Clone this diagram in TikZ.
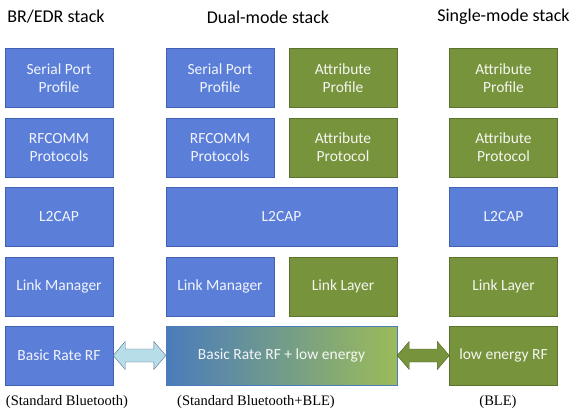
\documentclass[tikz,border=0pt]{standalone}
\usepackage{fontspec}
\setmainfont{Liberation Serif}
\newfontfamily\boxfont{Carlito}
\usetikzlibrary{calc}
\definecolor{stackblue}{RGB}{91,126,217}
\definecolor{stackblueline}{RGB}{68,96,178}
\definecolor{stackgreen}{RGB}{119,147,60}
\definecolor{stackgreenline}{RGB}{92,114,45}
\definecolor{arrowcyan}{RGB}{183,222,232}
\definecolor{arrowcyanline}{RGB}{79,110,145}
\definecolor{arrowgreenline}{RGB}{79,98,40}
\definecolor{gradleft}{RGB}{74,124,187}
\definecolor{gradright}{RGB}{155,187,89}
\begin{document}
\begin{tikzpicture}[x=1pt, y=1pt,
    layer/.style={minimum width=108pt, minimum height=59pt, inner sep=0pt,
        text=white, text opacity=0.92, align=center,
        font=\boxfont\fontsize{15.5}{18}\selectfont},
    bluelayer/.style={layer, fill=stackblue, draw=stackblueline},
    greenlayer/.style={layer, fill=stackgreen, draw=stackgreenline},
    title/.style={font=\boxfont\fontsize{18}{21}\selectfont},
    caption/.style={font=\fontsize{14.5}{17}\selectfont}]
    \useasboundingbox (0,0) rectangle (588,415);

    % the titles
    \node[title] (ttlbr) at (56,398) {BR/EDR stack};
    \node[title] (ttldual) at (268,398) {Dual-mode stack};
    \node[title] (ttlsingle) at (503.5,398) {Single-mode stack};

    % BR/EDR stack
    \node[bluelayer] (brspp) at (59,337) {Serial Port\\Profile};
    \node[bluelayer] (brrfc) at (59,267.5) {RFCOMM\\Protocols};
    \node[bluelayer] (brl2) at (59,198) {L2CAP};
    \node[bluelayer] (brlm) at (59,128.5) {Link Manager};
    \node[bluelayer] (brrf) at (59,59.5) {Basic Rate RF};

    % dual-mode stack
    \node[bluelayer] (dmspp) at (220,337) {Serial Port\\Profile};
    \node[greenlayer] (dmatp) at (343,337) {Attribute\\Profile};
    \node[bluelayer] (dmrfc) at (220,267.5) {RFCOMM\\Protocols};
    \node[greenlayer] (dmatt) at (343,267.5) {Attribute\\Protocol};
    \node[bluelayer, minimum width=231pt] (dml2) at (281.5,198) {L2CAP};
    \node[bluelayer] (dmlm) at (220,128.5) {Link Manager};
    \node[greenlayer] (dmll) at (343,128.5) {Link Layer};
    \node[layer, minimum width=231pt, left color=gradleft, right color=gradright,
        draw=gradleft] (dmrf) at (281.5,59.5) {Basic Rate RF + low energy};

    % single-mode stack
    \node[greenlayer] (smatp) at (503.5,337) {Attribute\\Profile};
    \node[greenlayer] (smatt) at (503.5,267.5) {Attribute\\Protocol};
    \node[bluelayer] (sml2) at (503.5,198) {L2CAP};
    \node[greenlayer] (smll) at (503.5,128.5) {Link Layer};
    \node[greenlayer] (smrf) at (503.5,59.5) {low energy RF};

    % the captions
    \node[caption] (capbr) at (67,13) {(Standard Bluetooth)};
    \node[caption] (capdual) at (256,13) {(Standard Bluetooth+BLE)};
    \node[caption] (capsingle) at (498,13) {(BLE)};

    % draw the arrows
    \filldraw[fill=arrowcyan, draw=arrowcyanline, line join=miter]
        (brrf.east) -- ++(12,14) -- ++(0,-7.5) -- ($(dmrf.west)+(-12,6.5)$)
        -- ++(0,7.5) -- (dmrf.west) -- ++(-12,-14) -- ++(0,7.5)
        -- ($(brrf.east)+(12,-6.5)$) -- ++(0,-7.5) -- cycle;
    \filldraw[fill=stackgreen, draw=arrowgreenline, line join=miter]
        (dmrf.east) -- ++(12,14) -- ++(0,-7.5) -- ($(smrf.west)+(-12,6.5)$)
        -- ++(0,7.5) -- (smrf.west) -- ++(-12,-14) -- ++(0,7.5)
        -- ($(dmrf.east)+(12,-6.5)$) -- ++(0,-7.5) -- cycle;
\end{tikzpicture}
\end{document}
